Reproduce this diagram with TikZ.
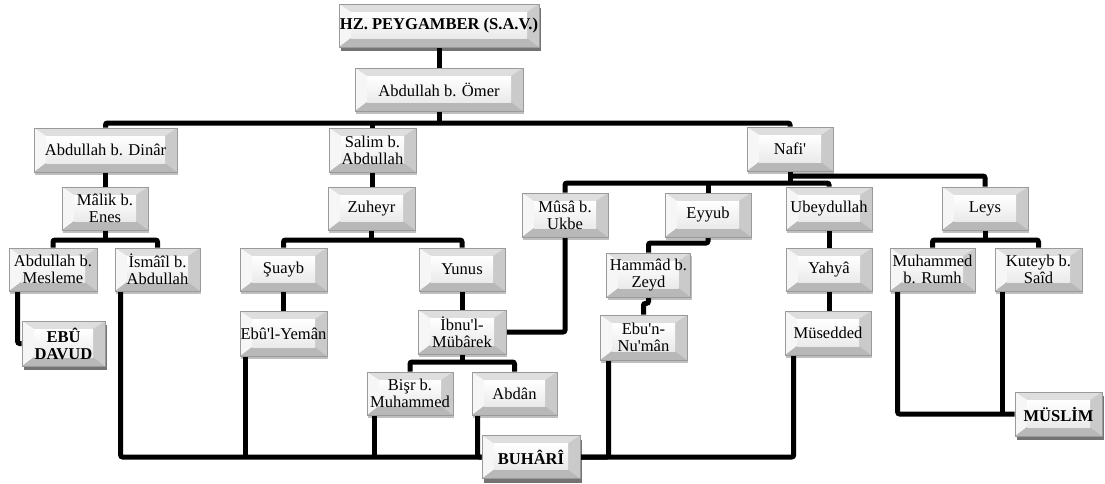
\documentclass[tikz,border=0pt]{standalone}
\usepackage{fontspec}
\setmainfont{Liberation Serif}[Ligatures=TeXOff]
\usetikzlibrary{calc,shadows,backgrounds}
\definecolor{bvT}{HTML}{DEDEDE}
\definecolor{bvL}{HTML}{F6F6F6}
\definecolor{bvR}{HTML}{CACACA}
\definecolor{bvB}{HTML}{B8B8B8}
\definecolor{bvO}{HTML}{9A9A9A}
\definecolor{bvF}{HTML}{EAEAEA}
\tikzset{
  bevbase/.style={rectangle, draw=bvO, line width=0.5pt, inner sep=0pt, align=center,
    font=\fontsize{12.4}{12.8}\selectfont,
    path picture={
      \path (path picture bounding box.north west) coordinate (q1)
            (path picture bounding box.south east) coordinate (q2);
      \coordinate (q3) at ($(q1)+(12,8)$);
      \coordinate (q4) at ($(q2)+(-12,-9)$);
      \fill[bvT] (q1) -- (q1 -| q2) -- (q3 -| q4) -- (q3) -- cycle;
      \fill[bvL] (q1) -- (q3) -- (q3 |- q4) -- (q1 |- q2) -- cycle;
      \fill[bvR] (q1 -| q2) -- (q2) -- (q4) -- (q3 -| q4) -- cycle;
      \fill[bvB] (q1 |- q2) -- (q2) -- (q4) -- (q3 |- q4) -- cycle;
      \shade[top color=white, bottom color=bvF] (q3) rectangle (q4);
    }},
  bev/.style={bevbase, fill=bvF,
    drop shadow={shadow xshift=1pt, shadow yshift=-2pt, opacity=0.25, fill=black}},
  bevb/.style={bevbase, fill=bvF, font=\fontsize{12.4}{12.8}\selectfont\bfseries,
    drop shadow={shadow xshift=1.5pt, shadow yshift=-3pt, opacity=0.55, fill=black}},
  bx/.style 2 args={minimum width=#1*0.75pt, minimum height=#2*0.75pt},
  conn/.style={line width=3.75pt, rounded corners=1.5pt}
}
\begin{document}
\begin{tikzpicture}[x=0.75pt, y=-0.75pt]
\useasboundingbox (0,0) rectangle (1105,483);
% row 1-2
\node[bevb, bx={200}{43}] (hz) at (439,25.5) {HZ. PEYGAMBER (S.A.V.)};
\node[bev, bx={168}{43}] (omer) at (439,89.5) {Abdullah b. Ömer};
% row 3
\node[bev, bx={143}{44}] (dinar) at (105.5,150) {Abdullah b. Dinâr};
\node[bev, bx={87}{44}] (salim) at (372.5,150) {Salim b.\\Abdullah};
\node[bev, bx={86}{44}] (nafi) at (790,149) {Nafi'};
% row 4
\node[bev, bx={86}{43}] (malik) at (105,208.5) {Mâlik b.\\Enes};
\node[bev, bx={87}{43}] (zuheyr) at (371.5,208.5) {Zuheyr};
\node[bev, bx={86}{44}] (musa) at (565,215) {Mûsâ b.\\Ukbe};
\node[bev, bx={86}{44}] (eyyub) at (708,215) {Eyyub};
\node[bev, bx={86}{43}] (ubeyd) at (829,208.5) {Ubeydullah};
\node[bev, bx={86}{43}] (leys) at (985,208.5) {Leys};
% row 5
\node[bev, bx={88}{43}] (mesleme) at (53,269.5) {Abdullah b.\\Mesleme};
\node[bev, bx={85}{43}] (ismail) at (157.5,269.5) {İsmâîl b.\\Abdullah};
\node[bev, bx={87}{43}] (suayb) at (283.5,269.5) {Şuayb};
\node[bev, bx={86}{43}] (yunus) at (462,269.5) {Yunus};
\node[bev, bx={84}{44}] (hammad) at (648.5,275) {Hammâd b.\\Zeyd};
\node[bev, bx={86}{43}] (yahya) at (829,269.5) {Yahyâ};
\node[bev, bx={85}{43}] (muhammed) at (932.5,269.5) {Muhammed\\b. Rumh};
\node[bev, bx={87}{43}] (kuteyb) at (1038.5,269.5) {Kuteyb b.\\Saîd};
% row 6
\node[bevb, bx={83}{45}] (ebudavud) at (63.5,343.5) {EBÛ\\DAVUD};
\node[bev, bx={87}{45}] (yeman) at (283.5,333.5) {Ebû'l-Yemân};
\node[bev, bx={88}{44}] (ibnu) at (462,332) {İbnu'l-\\Mübârek};
\node[bev, bx={87}{45}] (ebun) at (643.5,337.5) {Ebu'n-\\Nu'mân};
\node[bev, bx={86}{44}] (mused) at (828,333) {Müsedded};
% row 7
\node[bev, bx={86}{43}] (bisr) at (410,393.5) {Bişr b.\\Muhammed};
\node[bev, bx={85}{43}] (abdan) at (514.5,393.5) {Abdân};
\node[bevb, bx={87}{44}] (muslim) at (1058.5,414) {MÜSLİM};
\node[bevb, bx={98}{43}] (buhari) at (531,457) {BUHÂRÎ};

\begin{scope}[on background layer]
\fill[white] (0,0) rectangle (1105,483);
\begin{scope}[conn]
\draw (hz.south) -- (omer.north);
\coordinate (j1) at (439,123);
\draw (omer.south) -- (j1);
\draw (dinar.north) -- (dinar.north |- j1) -- (nafi.north |- j1) -- (nafi.north);
\draw (salim.north) -- (salim.north |- j1);
\draw (dinar.south) -- (dinar.south |- malik.north);
\coordinate (j2) at (105,240);
\draw (malik.south) -- (j2);
\draw (mesleme.north) -- (mesleme.north |- j2) -- (ismail.north |- j2) -- (ismail.north);
\draw ($(mesleme.south west)+(9,0)$) |- (ebudavud.west);
\draw ($(ismail.south west)+(6,0)$) |- (buhari.west);
\coordinate (ye) at ($(yeman.south west)+(6,0)$);
\draw (ye) -- (ye |- buhari.west);
\coordinate (bi) at ($(bisr.south west)+(8,0)$);
\draw (bi) -- (bi |- buhari.west);
\draw ($(abdan.south west)+(6,0)$) |- (buhari.west);
\draw (salim.south) -- (salim.south |- zuheyr.north);
\coordinate (j3) at (372,240);
\draw (zuheyr.south) -- (zuheyr.south |- j3);
\draw (suayb.north) -- (suayb.north |- j3) -- (yunus.north |- j3) -- (yunus.north);
\draw (suayb.south) -- (yeman.north);
\draw (yunus.south) -- (ibnu.north);
\coordinate (j4) at (462,362);
\draw (ibnu.south) -- (j4);
\draw (bisr.north) -- (bisr.north |- j4) -- (abdan.north |- j4) -- (abdan.north);
\draw (musa.south) |- (ibnu.east);
\coordinate (j5) at (790,183);
\draw (nafi.south) -- (j5);
\draw (musa.north) -- (musa.north |- j5) -- (ubeyd.north |- j5) -- (ubeyd.north);
\draw (eyyub.north) -- (eyyub.north |- j5);
\coordinate (j6) at (790,176);
\draw (j6) -| (leys.north);
\coordinate (j7) at (708,243);
\draw (eyyub.south) -- (j7) -| (hammad.north);
\draw (hammad.south) -- ++(0,6) -| (ebun.north);
\draw ($(ebun.south west)+(9,0)$) |- (buhari.east);
\draw (ubeyd.south) -- (yahya.north);
\draw (yahya.south) -- (yahya.south |- mused.north);
\draw ($(mused.south west)+(9,0)$) |- (buhari.east);
\coordinate (j8) at (985,240);
\draw (leys.south) -- (j8);
\draw (muhammed.north) -- (muhammed.north |- j8) -- (kuteyb.north |- j8) -- (kuteyb.north);
\draw ($(muhammed.south west)+(8,0)$) |- (muslim.west);
\coordinate (ku) at ($(kuteyb.south west)+(8,0)$);
\draw (ku) -- (ku |- muslim.west);
\end{scope}
\end{scope}
\end{tikzpicture}
\end{document}
